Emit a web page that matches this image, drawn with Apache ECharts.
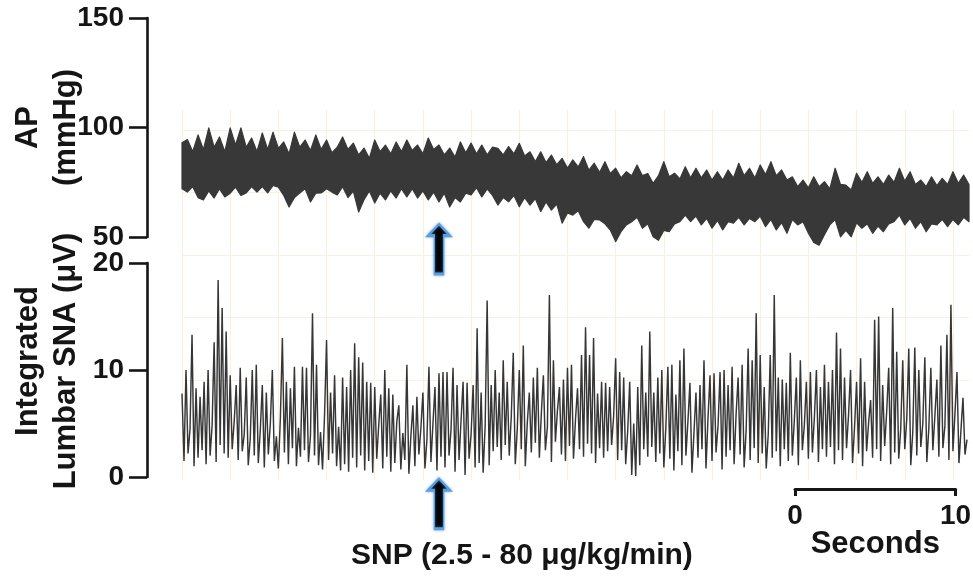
<!DOCTYPE html>
<html><head><meta charset="utf-8">
<script src="https://cdn.jsdelivr.net/npm/echarts@6/dist/echarts.min.js"></script>
<style>html,body{margin:0;padding:0;background:#fff}#c{width:973px;height:582px}</style>
</head><body><div id="c"></div>
<script>
// ---- data ----
const apTicks = [50, 100, 150];          // mmHg
const snaTicks = [0, 10, 20];            // µV
const apDt = 1 / 3;                      // s between envelope samples
const apHigh = [
93,94.5,89,96.6,90,99.8,91,95.7,89,99.8,
92,99.8,91,95.2,89,97.5,90,97.9,90.5,93.4,
88,97.9,91,94.3,89.5,96.6,90,94.3,88.5,91,
95.7,90,92.9,87.5,90.6,86,94.3,89,92,88,
93.4,89,94.3,89.5,92,88,95.2,90,92,87.5,
90.6,86.5,93.4,88.5,92.9,88,92,87.5,91,90.5,
87.5,91.3,88,92.8,87,88.9,84.5,88.9,84,87.4,
83,85.9,81.5,85.2,82,86.7,80.5,83.7,79.5,84.4,
79,81.4,77,79.8,78,82.9,78,79,74.5,78,
84.4,77.5,79.1,76.5,82.1,77,81.4,77,80.6,76,
79.8,76,80.6,77,83.7,78,81.4,77,82.9,78.5,
84.4,78,80.6,76,77.5,73,76,72.5,77.5,73,
75.3,72,81.4,74,73.7,71.5,79.1,75,79.8,74.5,
77.5,74,78.3,75,81.4,75.5,79.8,74,76,73,
77.5,73.5,76.8,74,79.8,74.5,78.3,74];
const apLow = [
72,70.5,73,68,66.9,71,67.8,72,68.3,70,
72.8,69,70.1,73,70.5,73,70.1,73.5,72.8,69,
63.7,68,70.1,72,66,70,70.1,72,70.5,69.2,
73,68,71,61.4,67,71,65.5,70,66.9,71,
67.8,72,68.3,72,67.8,71,66.9,70.5,66,70,
63.7,68,66,70,69.2,72.5,68.3,72,69,64.6,
68,66.1,69,63.8,68,64.6,67.5,61.6,66,62.3,
65,56.3,61,60,62,57,54,58,57.8,56,
53.2,47.9,52.4,55.5,57,59,54,56,50.1,48.5,
53,52.4,56,57,60,57,59.5,55.5,58.5,54,
57.5,53.2,57,56.3,59,55.5,58.5,57,59.5,54.7,
58,53.2,56.5,51.7,58,55.5,57,51.7,47.5,46.3,
51,55.5,58,50.1,53,50.1,56.5,54,56,51.7,
55,52.4,56,57,60,55.5,58.5,54,57,52.4,
56,55.5,58,54.7,58,55.5,59,57];
const snaDt = 0.125;                     // s between SNA samples
const snaValues = [
7.8,1.5,10,2.2,4.5,13.3,1.0,8.3,1.8,7.5,
2.5,8.9,1.2,10,2.0,4.8,12.6,1.4,18.4,3.0,
15.8,2.2,13.6,1.8,9.5,2.6,5.2,8.6,1.6,10.2,
2.4,4.0,9.3,1.1,3.6,10,2.0,10.5,1.3,4.4,
8.6,0.9,7.9,2.1,5.0,10,1.5,3.8,0.8,5.5,
13,2.3,8.9,1.2,8.3,2.7,10.3,1.0,4.6,1.9,
10.3,2.5,10.2,1.4,3.9,15.3,2.0,10.5,1.1,4.2,
0.7,5.8,12.8,1.6,7.9,2.2,9.5,1.0,4.7,0.6,
9.3,1.2,8.4,0.5,10,1.8,12.5,0.9,11.2,2.0,
10.7,0.6,8.9,1.5,8.8,0.4,8.4,1.7,4.9,7.7,
0.8,10,1.9,8.3,0.5,7.7,1.3,5.2,6.7,0.7,
4.1,1.6,10.5,0.3,3.8,6.7,1.0,7.5,2.1,4.6,
7.9,0.8,3.5,10.3,1.4,5.0,8.4,0.6,9.7,1.9,
9.8,0.9,9.8,2.0,4.4,10.2,0.5,8.6,1.6,5.3,
8.9,0.2,8.8,1.7,4.0,8.6,0.9,13.9,1.3,7.9,
0.4,4.8,16.5,1.1,8.6,2.4,10,2.8,7.9,1.6,
10.9,3.0,8.9,2.0,5.6,11.6,1.2,4.5,10,2.6,
12.3,1.0,5.1,7.9,2.3,9.3,3.2,10.2,1.8,6.0,
9.5,2.5,4.7,17,1.4,10.9,3.3,6.2,8.4,2.1,
9.1,1.5,10.2,2.9,10.5,1.7,5.4,8.3,2.6,11.4,
1.9,14,3.1,11.4,2.2,13,1.3,7.8,2.7,8.9,
1.8,8.8,2.4,8.4,3.0,5.7,11.1,1.6,9.8,2.5,
9.3,1.2,4.3,8.9,0.2,5.0,0.1,8.4,1.1,12.3,
2.6,7.9,1.9,13.6,2.8,7.9,1.4,9.3,2.2,10,
0.9,4.6,10.3,1.7,10.5,0.6,7.7,2.4,10.9,1.1,
12,2.0,5.2,8.8,0.4,4.1,7.9,1.8,8.6,2.6,
10.9,0.8,5.5,9.5,1.5,9.7,2.3,4.8,9.8,0.7,
10,1.9,8.6,2.5,10.3,1.2,5.9,9.3,2.1,10.5,
0.9,4.4,12,1.6,10.9,2.7,15.3,1.3,11.4,2.2,
8.4,0.8,4.0,11.4,1.8,17,2.4,9.3,1.0,9.1,
2.6,8.8,1.5,11.6,2.0,5.3,9.3,1.1,10.9,2.5,
4.9,8.9,1.7,9.8,2.3,5.6,10,1.4,8.4,2.6,
10.5,1.9,8.9,2.8,10,1.2,13.5,2.5,12,1.6,
9.3,2.7,5.8,10,1.3,4.7,8.9,2.2,11.1,1.0,
8.9,2.4,5.1,7.2,1.8,14.7,2.6,15,1.5,8.6,
2.9,6.1,10.2,1.2,15.8,2.3,11.7,1.7,4.5,10.9,
2.6,5.4,12,1.1,4.2,12.1,2.0,10,2.8,5.0,
11.2,1.4,4.6,10.2,2.5,5.7,9.1,1.9,12.3,2.7,
4.8,13.3,1.6,16.1,2.4,5.9,9.8,1.3,4.4,7.4,
2.1,3.5];
const snpTime = 16.0;                    // s, SNP infusion start
const snpLabel = 'SNP (2.5 - 80 μg/kg/min)';
const scaleBarTicks = [0, 10];           // seconds
const traceSeconds = 49;
const axisLead = 2.1792;                 // s of blank space between y axis line and trace start

// ---- build ----
const apTimes = apHigh.map((_, i) => i * apDt);
const snaData = snaValues.map((v, i) => [i * snaDt, v]);

const INK = '#151515';
const FONT = "'Liberation Sans', Arial, Helvetica, sans-serif";
const TRACE = '#383838';
const GRIDC = '#fbefdd';
const lblStyle = {fontSize: 28, fontWeight: 'bold', color: INK, fontFamily: FONT};
const nameStyle = {fontSize: 31, fontWeight: 'bold', color: INK, fontFamily: FONT, lineHeight: 38};
const hidden = {axisLine: {show: false}, axisTick: {show: false}, axisLabel: {show: false}};
const faintSplit = {show: true, showMaxLine: false, lineStyle: {color: GRIDC, width: 1}};

function yAxisFor(gi, ticks, name, pad) {
  return {
    gridIndex: gi, type: 'value', position: 'left',
    min: ticks[0], max: ticks[ticks.length - 1], interval: ticks[1] - ticks[0],
    axisLine: {show: true, onZero: false, lineStyle: {color: INK, width: 2.6}},
    axisTick: {show: true, length: 18, lineStyle: {color: INK, width: 2.6}},
    axisLabel: Object.assign({margin: 23, padding: [5, 0, 0, 0]}, lblStyle),
    splitLine: {show: false},
    name: name, nameLocation: 'middle', nameRotate: 90, nameGap: 62,
    nameMoveOverlap: false,
    nameTextStyle: Object.assign({padding: pad}, nameStyle)
  };
}

const chart = echarts.init(document.getElementById('c'), null, {renderer: 'canvas'});
chart.setOption({
  animation: false,
  backgroundColor: '#fff',
  textStyle: {fontFamily: FONT},
  grid: [
    {left: 182, top: 110, width: 787, height: 370, outerBoundsMode: 'none'},
    {left: 182, top: 110, width: 787, height: 332.5, outerBoundsMode: 'none'},
    {left: 147, top: 18, width: 822, height: 219, outerBoundsMode: 'none'},
    {left: 147, top: 263, width: 822, height: 214, outerBoundsMode: 'none'},
    {left: 795, top: 488, width: 160.6, height: 1, outerBoundsMode: 'none'}
  ],
  xAxis: [
    Object.assign({gridIndex: 0, type: 'value', min: 0, max: traceSeconds, interval: 3,
     splitLine: faintSplit}, hidden),
    Object.assign({gridIndex: 1, type: 'value', min: 0, max: traceSeconds,
     splitLine: {show: false}}, hidden),
    {gridIndex: 2, type: 'value', min: -axisLead, max: traceSeconds, show: false},
    {gridIndex: 3, type: 'value', min: -axisLead, max: traceSeconds, show: false},
    {gridIndex: 4, type: 'value', position: 'bottom',
     min: scaleBarTicks[0], max: scaleBarTicks[1], interval: scaleBarTicks[1] - scaleBarTicks[0],
     axisLine: {show: true, onZero: false, lineStyle: {color: INK, width: 3}},
     axisTick: {show: true, length: 7, lineStyle: {color: INK, width: 3}},
     axisLabel: Object.assign({margin: 13}, lblStyle),
     splitLine: {show: false},
     name: 'Seconds', nameLocation: 'middle', nameGap: 40, nameMoveOverlap: false,
     nameTextStyle: {fontSize: 31, fontWeight: 'bold', color: INK, fontFamily: FONT}}
  ],
  yAxis: [
    Object.assign({gridIndex: 0, type: 'value', min: 0, max: 1, splitLine: {show: false}}, hidden),
    Object.assign({gridIndex: 1, type: 'value', min: 0, max: 5.32, interval: 1,
     splitLine: faintSplit}, hidden),
    yAxisFor(2, apTicks, 'AP\n(mmHg)', [0, 0, 0, 0]),
    yAxisFor(3, snaTicks, 'Integrated\nLumbar SNA (μV)', [0, 0, 0, 18]),
    {gridIndex: 4, type: 'value', min: 0, max: 1, show: false}
  ],
  series: [
    {type: 'custom', xAxisIndex: 2, yAxisIndex: 2, clip: false, silent: true,
     data: [[apTimes[0], apHigh[0]]],
     renderItem: function (params, api) {
       const pts = [];
       for (let i = 0; i < apHigh.length; i++) pts.push(api.coord([apTimes[i], apHigh[i]]));
       for (let i = apLow.length - 1; i >= 0; i--) pts.push(api.coord([apTimes[i], apLow[i]]));
       return {type: 'polygon', shape: {points: pts},
               style: {fill: TRACE, stroke: TRACE, lineWidth: 1.2, lineJoin: 'round'}};
     }},
    {type: 'line', xAxisIndex: 3, yAxisIndex: 3, data: snaData,
     showSymbol: false, symbol: 'none', clip: false, silent: true,
     lineStyle: {color: '#363636', width: 1.45}},
    {type: 'scatter', xAxisIndex: 3, yAxisIndex: 3, clip: false, silent: true, z: 10,
     symbol: 'path://M12,0L24,12L17,12L17,52L7,52L7,12L0,12Z',
     symbolSize: [22, 50],
     itemStyle: {color: '#050505', opacity: 1, borderColor: '#5b9ddf', borderWidth: 2,
                 shadowColor: 'rgba(70,140,220,0.6)', shadowBlur: 3},
     data: [
       {value: [snpTime, 21.3]},
       {value: [snpTime, -2.5],
        label: {show: true, position: 'bottom', distance: 10, offset: [83, 0],
                formatter: snpLabel, opacity: 1,
                fontSize: 30, fontWeight: 'bold', color: INK, fontFamily: FONT}}
     ]}
  ]
});
</script></body></html>
